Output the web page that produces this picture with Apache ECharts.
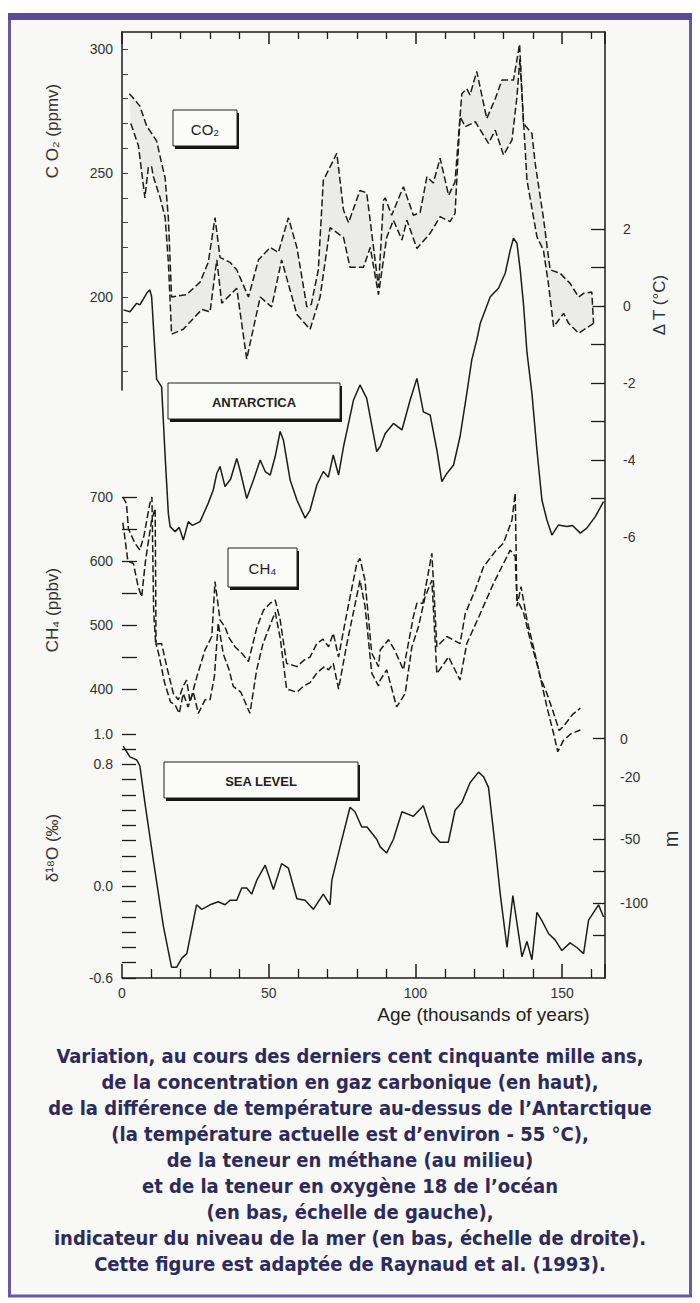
<!DOCTYPE html>
<html><head><meta charset="utf-8">
<script src="https://cdn.jsdelivr.net/npm/echarts@6/dist/echarts.min.js"></script>
<style>html,body{margin:0;padding:0;background:#fff}#c{width:700px;height:1303px}</style>
</head><body><div id="c"></div>
<script>
// ---------- tick labels ----------
const ageLabels = [0, 50, 100, 150];
const co2Labels = [200, 250, 300];
const co2Ticks = [170, 180, 190, 200, 210, 220, 230, 240, 250, 260, 270, 280, 290, 300];
const tempLabels = [2, 0, -2, -4, -6];
const tempTicks = [2, 1, 0, -1, -2, -3, -4, -5];
const ch4Labels = [400, 500, 600, 700];
const ch4Ticks = [400, 450, 500, 550, 600, 650, 700];
const d18oLabels = [1.0, 0.8, 0.0, -0.6];
const d18oTicks = [1.0, 0.9, 0.8, 0.7, 0.6, 0.5, 0.4, 0.3, 0.2, 0.1, 0.0, -0.1, -0.2, -0.3, -0.4, -0.5, -0.6];
const seaLevelLabels = ['0', '-20', '-50', '-100'];
const seaLevelLabelAt = [0.97, 0.72, 0.31, -0.11];   // in δ18O units (shared vertical scale)
const seaLevelTickAt = [0.97, 0.53, 0.31, 0.10, -0.11, -0.32];

// ---------- series: [age (ky), value] ----------
const co2Upper = [[2.5,282],[3.3,281],[6.1,277],[8.4,269],[10.1,266],[11.8,263],[13.5,254],[14.7,248],[15.8,232],[16.9,200],
 [22.0,201],[26.6,206],[29.4,214],[31.7,232],[33.4,216],[36.8,214],[39.1,211],[43.1,200],[46.5,215],[50.5,220],[53.3,218],
 [56.7,232],[59.6,220],[63.0,196],[64.5,197],[66.9,211],[68.6,247],[73.2,258],[75.5,235],[77.2,230],[81.1,243],[83.4,242],
 [87.4,204],[89.1,239],[89.7,240],[91.9,233],[95.9,244.5],[99.3,233],[101.6,234],[103.9,248.5],[106.1,246],[108.4,256],
 [111.3,241],[113.5,246.5],[115.8,282],[117.5,284],[118.6,281.5],[120.9,291],[124.3,272],[127.2,280],[129.5,287.5],
 [133.4,287.5],[135.5,302],[136.8,270],[139.7,266],[140.8,254],[143.6,232],[145.9,211],[149.3,209.6],[152.7,205.5],
 [155.6,200],[157.3,201.5],[160.1,202],[160.7,189.4]];
const co2Lower = [[3.0,270],[3.3,269],[5.6,261],[7.8,240],[9.0,252.5],[10.1,252.5],[10.7,248.5],[13.0,240],[14.7,232],[15.8,214],
 [16.9,185],[20.9,187],[27.2,195],[30.0,194],[32.3,215],[34.0,197.5],[39.1,203.5],[42.5,175],[47.1,200],[51.0,196],[54.4,215],
 [59.6,193],[64.1,187],[67.5,200],[70.9,228],[75.5,224],[77.7,212],[82.3,212],[84.6,220],[87.4,201],[90.2,224],[92.5,231],
 [95.4,223],[97.1,231],[100.5,219.6],[105.0,225.7],[108.4,232.4],[111.8,230.4],[113.5,233.7],[115.2,272.7],[117.0,268.7],
 [120.4,270.7],[124.9,262],[127.2,267.3],[130.0,257.3],[132.9,263.3],[134.6,280.8],[135.6,296],[138.0,247.2],[141.4,224.3],
 [143.6,219],[145.3,205.5],[147.1,188],[150.5,193.4],[152.2,189.4],[155.6,185.4],[160.7,189.4]];
const tempAntarctica = [[0.5,-0.1],[2.7,-0.15],[5.0,0.07],[6.1,0.03],[8.4,0.33],[9.5,0.42],[10.1,0.24],[11.0,-0.9],[11.8,-1.9],
 [13.5,-2.1],[14.7,-3.9],[15.8,-5.4],[16.4,-5.73],[18.1,-5.86],[19.5,-5.75],[20.9,-6.08],[22.6,-5.6],[24.0,-5.7],[26.6,-5.6],
 [29.4,-5.12],[31.1,-4.78],[32.3,-4.35],[33.4,-4.17],[35.1,-4.69],[37.0,-4.5],[39.1,-3.96],[40.2,-4.26],[42.5,-5.0],[44.8,-4.52],
 [47.1,-4.0],[48.8,-4.3],[50.5,-4.39],[52.2,-3.91],[53.9,-3.26],[55.0,-3.48],[57.3,-4.52],[59.6,-5.04],[62.4,-5.51],[64.1,-5.3],
 [66.4,-4.65],[68.6,-4.3],[70.3,-4.45],[72.0,-3.87],[73.8,-4.39],[75.5,-3.65],[77.2,-3.05],[78.9,-2.44],[81.1,-2.05],[83.4,-2.4],
 [86.8,-3.78],[88.0,-3.65],[89.7,-3.31],[92.5,-3.05],[95.4,-3.22],[98.2,-2.44],[100.5,-1.88],[102.7,-2.75],[105.0,-2.83],
 [107.3,-3.74],[109.0,-4.56],[110.7,-4.35],[113.0,-4.13],[115.2,-3.39],[117.5,-2.27],[119.2,-1.4],[120.9,-0.88],[122.1,-0.45],
 [125.5,0.24],[128.3,0.46],[130.6,0.85],[132.3,1.45],[133.4,1.76],[134.6,1.63],[135.7,0.94],[136.8,0.07],[138.0,-1.2],
 [139.7,-2.27],[141.4,-3.74],[143.1,-5.04],[144.8,-5.56],[146.5,-5.95],[148.7,-5.69],[151.6,-5.73],[153.5,-5.7],[156.2,-5.9],
 [158.4,-5.77],[161.3,-5.47],[164.1,-5.08]];
const ch4Upper = [[0.3,700],[1.5,690],[2.2,650],[4.4,628],[6.1,617],[7.5,640],[9.5,690],[10.2,700],[10.8,520],[11.5,470],[13.5,471],
 [15.5,430],[17.5,393],[19.2,383],[20.9,405],[22.0,414],[23.2,380],[25.5,419],[28.3,461],[30.6,482],[31.7,568],[33.4,508],
 [35.1,497],[36.5,480],[38.5,466],[41.0,455],[43.1,443],[45.9,495],[48.2,523],[50.5,534],[52.2,539],[53.9,508],[56.1,440],
 [59.6,435],[62.0,445],[64.1,450],[66.4,471],[68.5,478],[70.4,466],[72.0,487],[73.8,450],[76.6,518],[80.0,596],[81.1,604],
 [82.8,570],[85.1,456],[87.4,435],[88.0,461],[90.8,477],[93.0,460],[95.9,430],[99.3,513],[100.5,534],[102.5,534],[105.6,612],
 [106.1,570],[107.3,466],[110.7,482],[115.2,471],[117.0,518],[120.4,555],[123.2,591],[127.2,615],[130.0,628],[132.9,664],
 [134.0,706],[134.6,529],[136.0,560],[138.0,508],[140.2,466],[142.5,419],[144.8,393],[147.1,362],[149.0,335],[151.0,345],
 [153.5,360],[156.2,370]];
const ch4Lower = [[0.3,660],[2.0,600],[3.9,596],[5.5,560],[6.7,544],[8.0,600],[10.1,664],[11.3,682],[11.6,470],[12.5,455],
 [14.5,410],[16.5,380],[18.1,375],[19.5,362],[20.9,393],[22.5,372],[24.3,395],[26.0,362],[28.3,383],[30.0,383],[31.5,420],
 [32.8,503],[34.5,455],[36.5,430],[37.9,404],[40.5,395],[43.6,362],[45.9,430],[48.0,470],[50.5,500],[52.2,520],[53.9,480],
 [56.1,400],[59.6,395],[62.0,405],[64.1,410],[66.4,425],[69.0,435],[70.4,430],[72.0,440],[73.8,400],[76.6,470],[80.0,545],
 [81.1,570],[82.8,530],[85.1,425],[87.4,405],[88.0,414],[90.2,430],[93.6,372],[96.5,393],[98.8,466],[101.0,497],[103.3,544],
 [105.6,570],[107.3,424],[111.3,450],[115.2,414],[117.5,471],[122.1,518],[126.6,565],[130.0,596],[132.3,617],[134.0,607],
 [134.6,540],[136.8,520],[139.1,477],[142.0,430],[144.8,372],[147.1,330],[148.5,302],[150.5,320],[153.0,330],[156.2,336]];
const d18o = [[0.4,0.92],[2.7,0.85],[5.0,0.83],[6.1,0.79],[7.8,0.55],[10.7,0.17],[14.1,-0.26],[16.9,-0.53],[18.6,-0.53],
 [20.4,-0.47],[22.1,-0.44],[25.4,-0.12],[27.2,-0.15],[30.0,-0.12],[32.8,-0.10],[35.1,-0.12],[36.8,-0.09],[39.1,-0.09],
 [40.8,-0.01],[42.5,-0.01],[44.2,-0.05],[45.9,0.04],[48.8,0.14],[51.6,-0.02],[54.4,0.15],[56.7,0.12],[59.6,-0.08],[62.4,-0.09],
 [65.2,-0.15],[68.6,-0.05],[70.9,-0.12],[71.5,0.04],[74.3,0.26],[77.7,0.52],[79.4,0.49],[81.7,0.39],[83.5,0.39],[86.8,0.31],
 [88.0,0.26],[90.2,0.22],[92.5,0.31],[95.4,0.49],[99.3,0.46],[102.7,0.53],[105.6,0.35],[108.4,0.29],[111.2,0.29],[113.5,0.50],
 [115.8,0.55],[118.6,0.68],[121.5,0.75],[123.2,0.72],[124.9,0.65],[127.2,0.26],[128.9,-0.05],[131.2,-0.40],[133.2,-0.06],
 [134.6,-0.24],[136.3,-0.46],[138.0,-0.36],[139.7,-0.48],[141.4,-0.17],[143.0,-0.22],[145.4,-0.31],[147.6,-0.35],[149.9,-0.42],
 [152.7,-0.37],[155.0,-0.40],[157.3,-0.44],[159.0,-0.22],[162.4,-0.12],[164.1,-0.20]];

const captionLines = [
 'Variation, au cours des derniers cent cinquante mille ans,',
 'de la concentration en gaz carbonique (en haut),',
 'de la différence de température au-dessus de l’Antarctique',
 '(la température actuelle est d’environ - 55 °C),',
 'de la teneur en méthane (au milieu)',
 'et de la teneur en oxygène 18 de l’océan',
 '(en bas, échelle de gauche),',
 'indicateur du niveau de la mer (en bas, échelle de droite).',
 'Cette figure est adaptée de Raynaud et al. (1993).'
];

// ---------- styling ----------
const INK = '#1c1c1c';
const FONT = '"Liberation Sans", Arial, sans-serif';
const lbl = {color: '#333', fontSize: 14, fontFamily: FONT};
const xMax = 164.6;

function valueY(extra) {
  return Object.assign({
    type: 'value', splitLine: {show: false},
    axisLine: {show: false}
  }, extra);
}

function box(x, y, w, h, text, size, weight) {
  return [
    {type: 'rect', z: 50, shape: {x: x + 2, y: y + 3, width: w, height: h}, style: {fill: '#151515'}},
    {type: 'rect', z: 51, shape: {x: x, y: y, width: w, height: h}, style: {fill: '#fbfbfa', stroke: '#222', lineWidth: 1}},
    {type: 'text', z: 52, x: x + w / 2, y: y + h / 2 + 1,
     style: {text: text, align: 'center', verticalAlign: 'middle', fontSize: size, fontWeight: weight, fill: '#222', fontFamily: FONT}}
  ];
}

const dashed = {color: INK, width: 1.5, type: [7, 3]};
const solid = {color: INK, width: 1.5};

const option = {
  backgroundColor: '#ffffff',
  animation: false,
  grid: [
    {left: 122, right: 95, top: 32, height: 946},
    {left: 122, right: 95, top: 32, height: 358}
  ],
  xAxis: [
    {gridIndex: 0, type: 'value', min: 0, max: xMax, interval: 50, position: 'bottom',
     axisLine: {show: true, onZero: false, lineStyle: {color: INK, width: 1.5}},
     axisTick: {inside: true, length: 14, lineStyle: {color: INK, width: 1.5}},
     minorTick: {show: true, splitNumber: 5, length: 9, lineStyle: {color: INK, width: 1.3}},
     splitLine: {show: false},
     axisLabel: Object.assign({margin: 8, customValues: ageLabels}, lbl),
     name: 'Age (thousands of years)', nameLocation: 'middle', nameGap: 27,
     nameTextStyle: {fontSize: 19, color: '#222', fontFamily: FONT, padding: [0, 0, 0, 240]}},
    {gridIndex: 0, type: 'value', min: 0, max: xMax, interval: 50, position: 'top',
     axisLine: {show: true, onZero: false, lineStyle: {color: INK, width: 1.5}},
     axisTick: {inside: true, length: 12, lineStyle: {color: INK, width: 1.5}},
     minorTick: {show: true, splitNumber: 5, length: 7, lineStyle: {color: INK, width: 1.3}},
     splitLine: {show: false}, axisLabel: {show: false}},
    {gridIndex: 1, type: 'value', min: 0, max: xMax, show: false}
  ],
  yAxis: [
    valueY({gridIndex: 1, position: 'left', min: 162.5, max: 306.9,
      axisLine: {show: true, onZero: false, lineStyle: {color: INK, width: 1.5}},
      axisTick: {inside: true, length: 6, customValues: co2Ticks, lineStyle: {color: '#444'}},
      axisLabel: Object.assign({margin: 9, customValues: co2Labels}, lbl),
      name: 'C O₂ (ppmv)', nameLocation: 'middle', nameGap: 61, nameRotate: 90,
      nameTextStyle: {color: '#333', fontSize: 17, fontFamily: FONT, padding: [0, 0, 0, 160]}}),
    valueY({gridIndex: 0, position: 'right', min: -17.455, max: 7.117,
      axisLine: {show: true, onZero: false, lineStyle: {color: INK, width: 1.5}},
      axisTick: {inside: true, length: 14, customValues: tempTicks, lineStyle: {color: INK, width: 1.3}},
      axisLabel: Object.assign({margin: 18, customValues: tempLabels}, lbl),
      name: 'Δ T (°C)', nameLocation: 'middle', nameGap: 46, nameRotate: 90,
      nameTextStyle: {color: '#333', fontSize: 17, fontFamily: FONT, padding: [0, 0, 0, 400]}}),
    valueY({gridIndex: 0, position: 'left', min: -51.6, max: 1426.6,
      axisTick: {inside: true, length: 15, customValues: ch4Ticks, lineStyle: {color: INK, width: 1.3}},
      axisLabel: Object.assign({margin: 9, customValues: ch4Labels}, lbl),
      name: 'CH₄ (ppbv)', nameLocation: 'middle', nameGap: 61, nameRotate: 90,
      nameTextStyle: {color: '#333', fontSize: 17, fontFamily: FONT, padding: [0, 210, 0, 0]}}),
    valueY({gridIndex: 0, position: 'left', min: -0.6, max: 5.603,
      axisTick: {inside: true, length: 14, customValues: d18oTicks, lineStyle: {color: INK, width: 1.3}},
      axisLabel: Object.assign({margin: 9, customValues: d18oLabels, formatter: v => v.toFixed(1)}, lbl),
      name: 'δ¹⁸O (‰)', nameLocation: 'middle', nameGap: 61, nameRotate: 90,
      nameTextStyle: {color: '#333', fontSize: 17, fontFamily: FONT, padding: [0, 686, 0, 0]}}),
    valueY({gridIndex: 0, position: 'right', min: -0.6, max: 5.603,
      axisTick: {inside: true, length: 12, customValues: seaLevelTickAt, lineStyle: {color: INK, width: 1.3}},
      axisLabel: Object.assign({margin: 15, customValues: seaLevelLabelAt, formatter: v => {
        let best = 0;
        seaLevelLabelAt.forEach((a, i) => { if (Math.abs(a - v) < Math.abs(seaLevelLabelAt[best] - v)) best = i; });
        return seaLevelLabels[best];
      }}, lbl),
      name: 'm', nameLocation: 'middle', nameGap: 56, nameRotate: 90,
      nameTextStyle: {color: '#333', fontSize: 20, fontFamily: FONT, padding: [0, 668, 0, 0]}})
  ],
  series: [
    {type: 'custom', name: 'co2band', xAxisIndex: 2, yAxisIndex: 0, data: [0], silent: true, z: 1,
     renderItem: function (params, api) {
       const pts = co2Upper.map(p => api.coord(p)).concat(co2Lower.slice().reverse().map(p => api.coord(p)));
       return {type: 'polygon', shape: {points: pts}, style: {fill: '#ebebea'}};
     }},
    {type: 'line', name: 'CO2 high', xAxisIndex: 2, yAxisIndex: 0, data: co2Upper, showSymbol: false, symbol: 'none', lineStyle: dashed, z: 3},
    {type: 'line', name: 'CO2 low', xAxisIndex: 2, yAxisIndex: 0, data: co2Lower, showSymbol: false, symbol: 'none', lineStyle: dashed, z: 3},
    {type: 'line', name: 'Antarctica', xAxisIndex: 0, yAxisIndex: 1, data: tempAntarctica, showSymbol: false, symbol: 'none', lineStyle: solid, z: 3},
    {type: 'line', name: 'CH4 high', xAxisIndex: 0, yAxisIndex: 2, data: ch4Upper, showSymbol: false, symbol: 'none', lineStyle: dashed, z: 3},
    {type: 'line', name: 'CH4 low', xAxisIndex: 0, yAxisIndex: 2, data: ch4Lower, showSymbol: false, symbol: 'none', lineStyle: dashed, z: 3},
    {type: 'line', name: 'd18O', xAxisIndex: 0, yAxisIndex: 3, data: d18o, showSymbol: false, symbol: 'none', lineStyle: solid, z: 3}
  ],
  graphic: [
    {type: 'rect', z: -10, shape: {x: 9.5, y: 15, width: 681, height: 1281}, style: {fill: '#f8f8f6', stroke: '#6858a6', lineWidth: 3}},
    {type: 'rect', z: -9, shape: {x: 8, y: 13, width: 684, height: 7}, style: {fill: '#5a4a98'}},
    ...box(173, 110, 64, 36, 'CO₂', 15, 'normal'),
    ...box(168, 383, 172, 36, 'ANTARCTICA', 13, 'bold'),
    ...box(228, 548, 69, 39, 'CH₄', 15, 'normal'),
    ...box(164, 762, 194, 36, 'SEA LEVEL', 13, 'bold'),
    {type: 'text', z: 20, x: 350, y: 1043,
     style: {text: captionLines.join('\n'), align: 'center', verticalAlign: 'top', lineHeight: 26,
             fontSize: 20, fontWeight: 'bold', fill: '#2d2b5c',
             fontFamily: '"Liberation Sans Narrow", "DejaVu Sans Condensed", "Open Sans", sans-serif'}}
  ]
};

const chart = echarts.init(document.getElementById('c'), null, {renderer: 'svg', width: 700, height: 1303});
chart.setOption(option);
</script>
</body></html>
